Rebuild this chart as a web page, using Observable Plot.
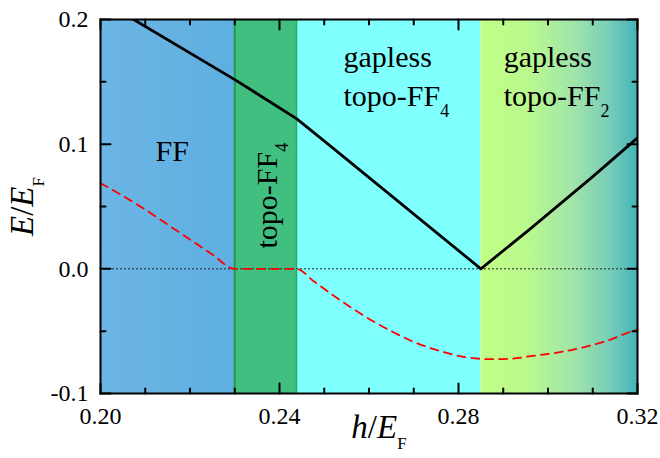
<!DOCTYPE html>
<html><head><meta charset="utf-8">
<script src="https://cdn.jsdelivr.net/npm/d3@7"></script>
<script src="https://cdn.jsdelivr.net/npm/@observablehq/plot@0.6"></script>
<style>body{margin:0;background:#fff}</style>
</head><body><div id="chart"></div>
<script>
// ---- data ----
const phases = ["FF", "topo-FF4", "gapless topo-FF4", "gapless topo-FF2"];
const phaseStart = [0.200, 0.230, 0.2438, 0.285];
const phaseEnd   = [0.230, 0.2438, 0.285, 0.320];

// upper (black) curve
const hBlack = [0.200, 0.2074, 0.230, 0.2438, 0.2514, 0.285, 0.2961, 0.310, 0.320];
const eBlack = [0.2158, 0.200, 0.1518, 0.1205, 0.0985, 0.000, 0.0323, 0.074, 0.105];

// lower (red dashed) curve
const hRed = [0.200, 0.205, 0.210, 0.215, 0.220, 0.225, 0.230, 0.237, 0.2438, 0.2475, 0.2514, 0.256, 0.2611, 0.265, 0.270, 0.275, 0.2812, 0.2849, 0.2872, 0.292, 0.2961, 0.302, 0.3073, 0.313, 0.3184, 0.320];
const eRed = [0.0687, 0.0585, 0.0475, 0.0355, 0.0235, 0.0115, 0.000, 0.000, 0.000, -0.0095, -0.0198, -0.031, -0.0425, -0.050, -0.0586, -0.065, -0.0706, -0.0722, -0.0725, -0.0720, -0.0701, -0.0673, -0.0634, -0.058, -0.0505, -0.0487];

const xMajorTicks = [0.20, 0.24, 0.28, 0.32];
const xMinorTicks = [0.21, 0.22, 0.23, 0.25, 0.26, 0.27, 0.29, 0.30, 0.31];
const yMajorTicks = [-0.1, 0.0, 0.1, 0.2];
const yMinorTicks = [-0.05, 0.05, 0.15];

const regionLabels = ["FF", "gapless", "topo-FF_4", "gapless", "topo-FF_2"];
const regionLabelH = [0.2123, 0.2543, 0.2543, 0.2901, 0.2901];
const regionLabelE = [0.0945, 0.1694, 0.1387, 0.1694, 0.1387];
const bandLabel = "topo-FF_4";
const bandLabelH = 0.2372;
const bandLabelE = 0.0163;

const xTitle = "h/E_F";
const yTitle = "E/E_F";

// ---- styles ----
const FONT = "'Liberation Serif', 'Times New Roman', serif";
const TICK_SIZE = 24, LABEL_SIZE = 30, TITLE_SIZE = 33;
const xDomain = [0.20, 0.32];
const yDomain = [-0.1, 0.2];
const phaseFill = {
  "FF": "url(#ffGrad)",
  "topo-FF4": "#40bf80",
  "gapless topo-FF4": "#80ffff",
  "gapless topo-FF2": "url(#gapless2Grad)"
};

const phaseRows = phases.map((p, i) => ({phase: p, h1: phaseStart[i], h2: phaseEnd[i]}));
const blackRows = hBlack.map((h, i) => ({h, e: eBlack[i]}));
const redRows = hRed.map((h, i) => ({h, e: eRed[i]}));
const labelRows = regionLabels.map((t, i) => ({t, h: regionLabelH[i], e: regionLabelE[i]}));

const tickShape = {draw(ctx, l) { ctx.moveTo(0, 0); ctx.lineTo(0, -l); }};
const ticks = (data, pos, rot, len) => Plot.vector(data, {
  ...pos, rotate: rot, length: len, anchor: "start", shape: tickShape,
  stroke: "black", strokeWidth: 2, fill: "none"
});

const defsMark = () => {
  const defs = d3.create("svg:defs");
  const g1 = defs.append("linearGradient").attr("id", "ffGrad")
    .attr("x1", "0%").attr("x2", "100%").attr("y1", "0%").attr("y2", "0%");
  [[0, "#6cb5e5"], [1, "#5eafe0"]].forEach(([o, c]) => g1.append("stop").attr("offset", o).attr("stop-color", c));
  const g2 = defs.append("linearGradient").attr("id", "gapless2Grad")
    .attr("x1", "0%").attr("x2", "100%").attr("y1", "0%").attr("y2", "0%");
  [[0, "#c0ff84"], [0.3, "#baf98e"], [0.6, "#a0e4aa"], [0.82, "#78ceb8"], [1, "#44b4b8"]]
    .forEach(([o, c]) => g2.append("stop").attr("offset", o).attr("stop-color", c));
  return defs.node();
};

const chart = Plot.plot({
  width: 660,
  height: 458,
  marginLeft: 100,
  marginRight: 23,
  marginTop: 19,
  marginBottom: 65,
  style: {background: "white", color: "black"},
  x: {domain: xDomain},
  y: {domain: yDomain},
  color: {type: "identity"},
  marks: [
    defsMark,
    Plot.rect(phaseRows, {x1: "h1", x2: "h2", y1: () => yDomain[0], y2: () => yDomain[1], fill: d => phaseFill[d.phase]}),
    Plot.ruleX([phaseStart[1]], {y1: () => yDomain[0], y2: () => yDomain[1], stroke: "#1e9e4c", strokeWidth: 2}),
    Plot.ruleX([phaseEnd[1]], {y1: () => yDomain[0], y2: () => yDomain[1], stroke: "#2eaa5c", strokeWidth: 1.5}),
    Plot.ruleX([phaseStart[3]], {y1: () => yDomain[0], y2: () => yDomain[1], stroke: "#c8ffa8", strokeWidth: 1}),
    Plot.ruleY([0], {stroke: "#222", strokeWidth: 1, strokeDasharray: "2,2"}),
    Plot.line(redRows, {x: "h", y: "e", stroke: "#ff0000", strokeWidth: 1.8, strokeDasharray: "8,6", curve: "monotone-x"}),
    Plot.line(blackRows, {x: "h", y: "e", stroke: "black", strokeWidth: 2.8, clip: true}),
    Plot.frame({stroke: "black", strokeWidth: 2}),
    ticks(xMajorTicks, {x: d => d, y: () => yDomain[0]}, 0, 10),
    ticks(xMinorTicks, {x: d => d, y: () => yDomain[0]}, 0, 5),
    ticks(xMajorTicks, {x: d => d, y: () => yDomain[1]}, 180, 10),
    ticks(xMinorTicks, {x: d => d, y: () => yDomain[1]}, 180, 5),
    ticks(yMajorTicks, {y: d => d, x: () => xDomain[0]}, 90, 10),
    ticks(yMinorTicks, {y: d => d, x: () => xDomain[0]}, 90, 5),
    ticks(yMajorTicks, {y: d => d, x: () => xDomain[1]}, -90, 10),
    ticks(yMinorTicks, {y: d => d, x: () => xDomain[1]}, -90, 5),
    Plot.axisX({ticks: xMajorTicks, tickSize: 0, tickPadding: 13, tickFormat: d => d.toFixed(2), label: null, fontSize: TICK_SIZE, fontFamily: FONT}),
    Plot.axisY({ticks: yMajorTicks, tickSize: 0, tickPadding: 12, tickFormat: d => d.toFixed(1), label: null, fontSize: TICK_SIZE, fontFamily: FONT}),
    Plot.text(labelRows, {x: "h", y: "e", text: "t", textAnchor: "start", fontSize: LABEL_SIZE, fontFamily: FONT, fill: "black"}),
    Plot.text([bandLabel], {x: () => bandLabelH, y: () => bandLabelE, text: d => d, rotate: -90, textAnchor: "start", fontSize: LABEL_SIZE, fontFamily: FONT, fill: "black"}),
    Plot.text([yTitle], {frameAnchor: "left", dx: -78, rotate: -90, text: d => d, textAnchor: "middle", fontSize: TITLE_SIZE, fontFamily: FONT, fill: "black"}),
    Plot.text([xTitle], {frameAnchor: "bottom", dx: 10, dy: 44, text: d => d, textAnchor: "middle", fontSize: TITLE_SIZE, fontFamily: FONT, fill: "black"})
  ]
});

// rich text: italics for axis-title variables, subscripts after "_"
const NS = "http://www.w3.org/2000/svg";
chart.querySelectorAll("text").forEach(t => {
  const s = t.textContent;
  if (!s.includes("_")) return;
  const [main, sub] = s.split("_");
  const isTitle = /^[hE]\//.test(main);
  while (t.firstChild) t.removeChild(t.firstChild);
  for (const ch of main) {
    const sp = document.createElementNS(NS, "tspan");
    sp.textContent = ch;
    if (isTitle && /[A-Za-z]/.test(ch)) sp.setAttribute("font-style", "italic");
    t.appendChild(sp);
  }
  const sb = document.createElementNS(NS, "tspan");
  sb.textContent = sub;
  sb.setAttribute("font-size", isTitle ? "17px" : "18px");
  sb.setAttribute("dy", "11");
  t.appendChild(sb);
});

document.getElementById("chart").appendChild(chart);
</script>
</body></html>
